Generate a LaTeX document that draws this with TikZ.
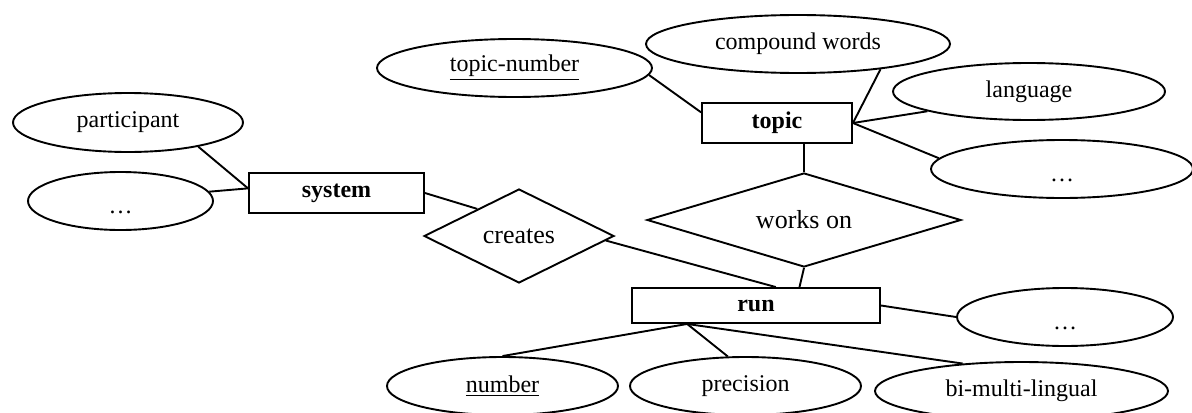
\documentclass[tikz,border=0pt]{standalone}
\usepackage{fontspec}
\setmainfont{Liberation Serif}
\usepackage{tikz}
\usetikzlibrary{shapes.geometric}
\newcommand{\lowdots}{\raisebox{-6pt}[0pt][0pt]{\ldots}}

\begin{document}
\begin{tikzpicture}[x=0.5pt, y=-0.5pt, line width=0.95pt,
        font=\fontsize{12}{14.4}\selectfont,
        entity/.style={draw, rectangle, inner sep=0pt, font=\fontsize{12}{14.4}\selectfont\bfseries},
        attr/.style={draw, ellipse, inner sep=0pt, minimum height=29pt},
        rel/.style={draw, diamond, inner sep=0pt, minimum height=47pt, font=\fontsize{13}{15.6}\selectfont}]
            \useasboundingbox (0,0) rectangle (1192,412);
            \node[entity, minimum width=87.5pt, minimum height=20pt] (system) at (336.5,193) {system};
            \node[entity, minimum width=75pt, minimum height=20pt] (topic) at (777,123) {topic};
            \node[entity, minimum width=124pt, minimum height=17.5pt] (run) at (756,305.5) {run};
            \node[rel, aspect=2.02, minimum width=95pt] (creates) at (519,236) {creates};
            \node[rel, aspect=3.34, minimum width=157pt] (workson) at (804,220) {works on};
            \node[attr, minimum width=115pt, minimum height=29.5pt] (participant) at (128,122.5) {participant};
            \node[attr, minimum width=92.5pt] (systemmore) at (120.5,201) {\lowdots};
            \node[attr, minimum width=137.5pt] (topicnumber) at (514.5,68) {\underline{topic-number}};
            \node[attr, minimum width=152pt] (compound) at (798,44) {compound words};
            \node[attr, minimum width=136pt, minimum height=28.5pt] (language) at (1029,91.5) {language};
            \node[attr, minimum width=131pt] (topicmore) at (1062,169) {\lowdots};
            \node[attr, minimum width=108pt] (runmore) at (1065,317) {\lowdots};
            \node[attr, minimum width=115.5pt] (number) at (502.5,386) {\underline{number}};
            \node[attr, minimum width=115.5pt] (precision) at (745.5,386) {precision};
            \node[attr, minimum width=146.5pt] (bilingual) at (1021.5,391) {bi-multi-lingual};
            \draw (participant.-19) -- (system.177);
            \draw (systemmore.6) -- (system.177);
            \draw (system.east) -- (creates.147);
            \draw (creates.-3) -- (run.43);
            \draw (workson.north |- topic.south) -- (workson.north);
            \draw (workson.south) -- (run.23);
            \draw (topicnumber.-3) -- (topic.172);
            \draw (compound.-17) -- (topic.east);
            \draw (language.191) -- (topic.east);
            \draw (topicmore.175) -- (topic.east);
            \draw (run.east) -- (runmore.west);
            \draw (run.195) -- (number.north);
            \draw (run.195) -- (precision.121);
            \draw (run.195) -- (bilingual.155);
        \end{tikzpicture}
\end{document}
